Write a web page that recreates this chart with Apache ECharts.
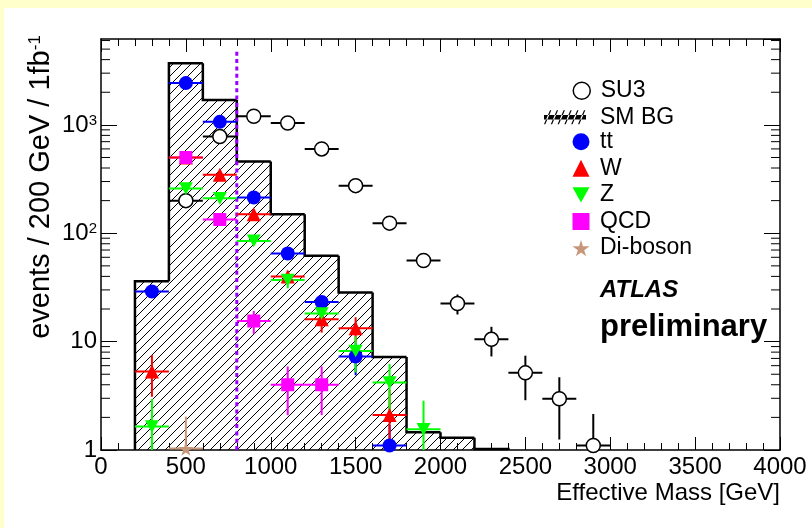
<!DOCTYPE html>
<html>
<head>
<meta charset="utf-8">
<style>
  html, body { margin: 0; padding: 0; background: #ffffcc; }
  #chart { position: absolute; left: 4px; top: 8px; width: 808px; height: 520px; background: #ffffff; }
</style>
<script src="https://cdn.jsdelivr.net/npm/echarts@6/dist/echarts.min.js"></script>
</head>
<body>
<div id="chart"></div>
<script>
// ---- Standard Model background, 200 GeV bins (bin edges + content) ----
const bgEdges  = [200, 400, 600, 800, 1000, 1200, 1400, 1600, 1800, 2000, 2200, 2400];
const bgEvents = [36, 3700, 1700, 460, 150, 62, 28.4, 7.2, 1.46, 1.3, 1.02];

// ---- SU3 signal ----
const su3Mass   = [500, 700, 900, 1100, 1300, 1500, 1700, 1900, 2100, 2300, 2500, 2700, 2900];
const su3Events = [200, 780, 1200, 1040, 600, 275, 124, 56, 22.5, 10.5, 5.15, 2.97, 1.1];
const su3Err    = [14, 28, 35, 32, 24, 17, 11, 7.5, 4.7, 3.2, 2.27, 1.72, 1.05];

// ---- ttbar ----
const ttMass   = [300, 500, 700, 900, 1100, 1300, 1500, 1700];
const ttEvents = [29, 2430, 1066, 214, 65, 23.2, 7.3, 1.1];
const ttErr    = [3, 40, 25, 10, 5, 2.5, 2.4, 0.6];

// ---- W + jets ----
const wMass   = [300, 500, 700, 900, 1100, 1300, 1500, 1700];
const wEvents = [5.3, 500, 346, 150, 40, 16.1, 13.3, 2.1];
const wErr    = [2.2, 20, 15, 8, 5, 4, 3.5, 1.5];

// ---- Z + jets ----
const zMass   = [300, 500, 700, 900, 1100, 1300, 1500, 1700, 1900];
const zEvents = [1.65, 259, 210, 85, 37, 18.2, 8.2, 4.2, 1.55];
const zErr    = [1.3, 12, 10, 6, 6, 3.5, 3, 2, 1.3];

// ---- QCD multijet ----
const qcdMass   = [500, 700, 900, 1100, 1300];
const qcdEvents = [500, 134, 15.5, 4.0, 4.0];
const qcdErr    = [25, 12, 3.7, 1.9, 1.9];

// ---- Di-boson ----
const dibosonMass   = [500];
const dibosonEvents = [1.03];
const dibosonErr    = [1.0];

// ---- effective-mass cut ----
const cutMass = 800;
const cutLineTop = 5000;

// axis ranges
const X_MIN = 0, X_MAX = 4000, X_STEP = 500;
const Y_MIN = 1, Y_MAX = 6200;
const BIN_HALF = 100;

const FONT = "'Liberation Sans', Arial, Helvetica, sans-serif";

// 45 degree hatch tile for the background histogram
function makeHatch(step) {
  const c = document.createElement('canvas');
  c.width = step; c.height = step;
  const g = c.getContext('2d');
  g.strokeStyle = '#000';
  g.lineWidth = 1;
  g.beginPath();
  g.moveTo(0, step); g.lineTo(step, 0);
  g.moveTo(-2, 2); g.lineTo(2, -2);
  g.moveTo(step - 2, step + 2); g.lineTo(step + 2, step - 2);
  g.stroke();
  return c;
}
const hatch = makeHatch(9);

// legend icon for the background: hatched strip crossed by a thick line
let smIcon = 'path://M0,4.8L42,4.8L42,9.2L0,9.2Z';
for (let x = 0; x <= 34; x += 6.8) {
  smIcon += `M${x},14L${x + 1.3},14L${x + 7.3},0L${x + 6},0Z`;
}
const downTriangle = 'path://M0,0L10,0L5,9Z';
const star = 'path://M50,0L61,35L98,35L68,57L79,91L50,70L21,91L32,57L2,35L39,35Z';

// minor decade ticks 2..9 x 10^k on the log axis
const yMinorTicks = [];
for (let k = 0; k < 4; k++) {
  for (let m = 2; m <= 9; m++) {
    const v = m * Math.pow(10, k);
    if (v < Y_MAX) yMinorTicks.push([0, v]);
  }
}

function zip3(xs, ys, es) { return xs.map((x, i) => [x, ys[i], es[i]]); }
function zip2(xs, ys) { return xs.map((x, i) => [x, ys[i]]); }

function errorBars(name, color, xs, ys, es, z) {
  return {
    name: name + ' errors',
    type: 'custom',
    z: z,
    silent: true,
    data: zip3(xs, ys, es),
    encode: { x: 0, y: 1 },
    renderItem: function (params, api) {
      const x = api.value(0), y = api.value(1), e = api.value(2);
      const l = api.coord([x - BIN_HALF, y]);
      const r = api.coord([x + BIN_HALF, y]);
      const t = api.coord([x, y + e]);
      const b = api.coord([x, Math.max(y - e, Y_MIN)]);
      const st = { stroke: color, lineWidth: 2 };
      return {
        type: 'group',
        children: [
          { type: 'line', shape: { x1: l[0], y1: l[1], x2: r[0], y2: r[1] }, style: st },
          { type: 'line', shape: { x1: t[0], y1: t[1], x2: b[0], y2: b[1] }, style: st }
        ]
      };
    }
  };
}

function markers(name, symbol, size, itemStyle, xs, ys, z) {
  return {
    name: name,
    type: 'scatter',
    z: z,
    symbol: symbol,
    symbolSize: size,
    symbolKeepAspect: true,
    itemStyle: Object.assign({ opacity: 1 }, itemStyle),
    emphasis: { disabled: true },
    data: zip2(xs, ys)
  };
}

const histData = bgEvents.map((v, i) => [bgEdges[i], bgEdges[i + 1], v]);

const series = [
  {
    name: 'SM BG',
    type: 'custom',
    z: 1,
    itemStyle: { color: '#000' },
    data: histData,
    encode: { x: [0, 1], y: 2 },
    renderItem: function (params, api) {
      const i = params.dataIndex;
      const lo = api.value(0), hi = api.value(1), v = api.value(2);
      const prev = i > 0 ? bgEvents[i - 1] : Y_MIN;
      const tl = api.coord([lo, v]);
      const br = api.coord([hi, Y_MIN]);
      const pts = [api.coord([lo, prev]), tl, api.coord([hi, v])];
      if (i === bgEvents.length - 1) pts.push(br);
      return {
        type: 'group',
        children: [
          { type: 'rect', shape: { x: tl[0], y: tl[1], width: br[0] - tl[0], height: br[1] - tl[1] },
            style: { fill: { image: hatch, repeat: 'repeat' } } },
          { type: 'polyline', shape: { points: pts }, style: { stroke: '#000', lineWidth: 2.5, fill: null } }
        ]
      };
    }
  },
  {
    name: 'cut',
    type: 'line',
    z: 2,
    symbol: 'none',
    silent: true,
    lineStyle: { color: '#9b00ff', width: 3, type: [4, 3.3] },
    data: [[cutMass, Y_MIN], [cutMass, cutLineTop]]
  },
  {
    name: 'y minor ticks',
    type: 'custom',
    z: 6,
    silent: true,
    data: yMinorTicks,
    encode: { x: 0, y: 1 },
    renderItem: function (params, api) {
      const y = api.coord([X_MIN, api.value(1)])[1];
      const cs = params.coordSys;
      const st = { stroke: '#000', lineWidth: 1 };
      return {
        type: 'group',
        children: [
          { type: 'line', shape: { x1: cs.x, y1: y, x2: cs.x + 9, y2: y }, style: st },
          { type: 'line', shape: { x1: cs.x + cs.width - 9, y1: y, x2: cs.x + cs.width, y2: y }, style: st }
        ]
      };
    }
  },
  errorBars('tt', '#0000ff', ttMass, ttEvents, ttErr, 3),
  errorBars('QCD', '#ff00ff', qcdMass, qcdEvents, qcdErr, 3),
  errorBars('W', '#ff0000', wMass, wEvents, wErr, 3),
  errorBars('Z', '#00ff00', zMass, zEvents, zErr, 3),
  errorBars('Di-boson', '#c8977a', dibosonMass, dibosonEvents, dibosonErr, 3),
  errorBars('SU3', '#000000', su3Mass, su3Events, su3Err, 3),
  markers('SU3', 'circle', 14, { color: '#ffffff', borderColor: '#000', borderWidth: 1.5 }, su3Mass, su3Events, 4),
  markers('tt', 'circle', 14, { color: '#0000ff' }, ttMass, ttEvents, 4),
  markers('W', 'triangle', 14, { color: '#ff0000' }, wMass, wEvents, 4),
  markers('Z', downTriangle, 14, { color: '#00ff00' }, zMass, zEvents, 4),
  markers('QCD', 'rect', 13, { color: '#ff00ff' }, qcdMass, qcdEvents, 4),
  markers('Di-boson', star, 15, { color: '#c8977a' }, dibosonMass, dibosonEvents, 4)
];

const legendText = { fontSize: 23, color: '#000', fontFamily: FONT, lineHeight: 26.6 };
const legendBase = {
  orient: 'vertical', padding: 0, itemGap: 0, selectedMode: false,
  itemWidth: 17, itemHeight: 17, symbolKeepAspect: true
};

const axisLineStyle = { color: '#000', width: 1.5 };
const option = {
  animation: false,
  backgroundColor: '#ffffff',
  grid: { left: 97, right: 32, top: 31, bottom: 78, containLabel: false, outerBoundsMode: 'none' },
  xAxis: [
    {
      type: 'value', min: X_MIN, max: X_MAX, interval: X_STEP, position: 'bottom',
      axisLine: { show: true, onZero: false, lineStyle: axisLineStyle },
      axisTick: { show: true, inside: true, length: 13, lineStyle: { color: '#000', width: 1 } },
      minorTick: { show: true, splitNumber: 5, length: 7, lineStyle: { color: '#000', width: 1 } },
      splitLine: { show: false },
      axisLabel: {
        show: true, color: '#000', fontSize: 24, fontFamily: FONT, margin: 5, hideOverlap: false,
        formatter: function (v) { return String(v); }
      }
    },
    {
      type: 'value', min: X_MIN, max: X_MAX, interval: X_STEP, position: 'top',
      axisLine: { show: true, onZero: false, lineStyle: axisLineStyle },
      axisTick: { show: true, inside: true, length: 13, lineStyle: { color: '#000', width: 1 } },
      minorTick: { show: true, splitNumber: 5, length: 7, lineStyle: { color: '#000', width: 1 } },
      splitLine: { show: false },
      axisLabel: { show: false }
    }
  ],
  yAxis: [
    {
      type: 'log', logBase: 10, min: Y_MIN, max: Y_MAX, position: 'left',
      axisLine: { show: true, onZero: false, lineStyle: axisLineStyle },
      axisTick: { show: true, inside: true, length: 16, lineStyle: { color: '#000', width: 1 } },
      splitLine: { show: false },
      axisLabel: {
        show: true, color: '#000', fontSize: 24, fontFamily: FONT, margin: 4, showMaxLabel: false,
        formatter: function (v) {
          const l = Math.log10(v), e = Math.round(l);
          if (Math.abs(l - e) > 1e-6) return '';
          if (e === 0) return '1';
          if (e === 1) return '10';
          return '10{sup|' + e + '}';
        },
        rich: { sup: { fontSize: 15, fontFamily: FONT, color: '#000', verticalAlign: 'top' } }
      }
    },
    {
      type: 'log', logBase: 10, min: Y_MIN, max: Y_MAX, position: 'right',
      axisLine: { show: true, onZero: false, lineStyle: axisLineStyle },
      axisTick: { show: true, inside: true, length: 16, lineStyle: { color: '#000', width: 1 } },
      splitLine: { show: false },
      axisLabel: { show: false }
    }
  ],
  legend: [
    Object.assign({}, legendBase, {
      left: 568.5, top: 69.4,
      textStyle: Object.assign({ padding: [0, 0, 0, 5.5] }, legendText),
      data: [{ name: 'SU3', itemStyle: { color: '#ffffff', borderColor: '#000', borderWidth: 1.5 } }]
    }),
    Object.assign({}, legendBase, {
      left: 540, top: 96, itemWidth: 42, itemHeight: 14,
      textStyle: Object.assign({ padding: [0, 0, 0, 9] }, legendText),
      data: [{ name: 'SM BG', icon: smIcon, itemStyle: { color: '#000' } }]
    }),
    Object.assign({}, legendBase, {
      left: 568.5, top: 120.4,
      textStyle: Object.assign({ padding: [0, 0, 0, 5.5] }, legendText),
      data: ['tt', 'W', 'Z', 'QCD', 'Di-boson']
    })
  ],
  graphic: [
    {
      type: 'text', x: 37, y: 179, rotation: Math.PI / 2, silent: true,
      style: {
        text: 'events / 200 GeV / 1fb{sup|-1}', fill: '#000', fontSize: 29, fontFamily: FONT,
        align: 'center', verticalAlign: 'middle',
        rich: { sup: { fontSize: 17, fontFamily: FONT, fill: '#000', verticalAlign: 'top' } }
      }
    },
    {
      type: 'text', x: 776, y: 485, silent: true,
      style: { text: 'Effective Mass [GeV]', fill: '#000', fontSize: 24, fontFamily: FONT, align: 'right', verticalAlign: 'middle' }
    },
    {
      type: 'text', x: 596, y: 282, silent: true,
      style: { text: 'ATLAS', fill: '#000', fontSize: 24, fontWeight: 'bold', fontStyle: 'italic', fontFamily: FONT, align: 'left', verticalAlign: 'middle' }
    },
    {
      type: 'text', x: 596, y: 319, silent: true,
      style: { text: 'preliminary', fill: '#000', fontSize: 31, fontWeight: 'bold', fontFamily: FONT, align: 'left', verticalAlign: 'middle' }
    }
  ],
  series: series
};

const chart = echarts.init(document.getElementById('chart'), null, { renderer: 'canvas' });
chart.setOption(option);
</script>
</body>
</html>
